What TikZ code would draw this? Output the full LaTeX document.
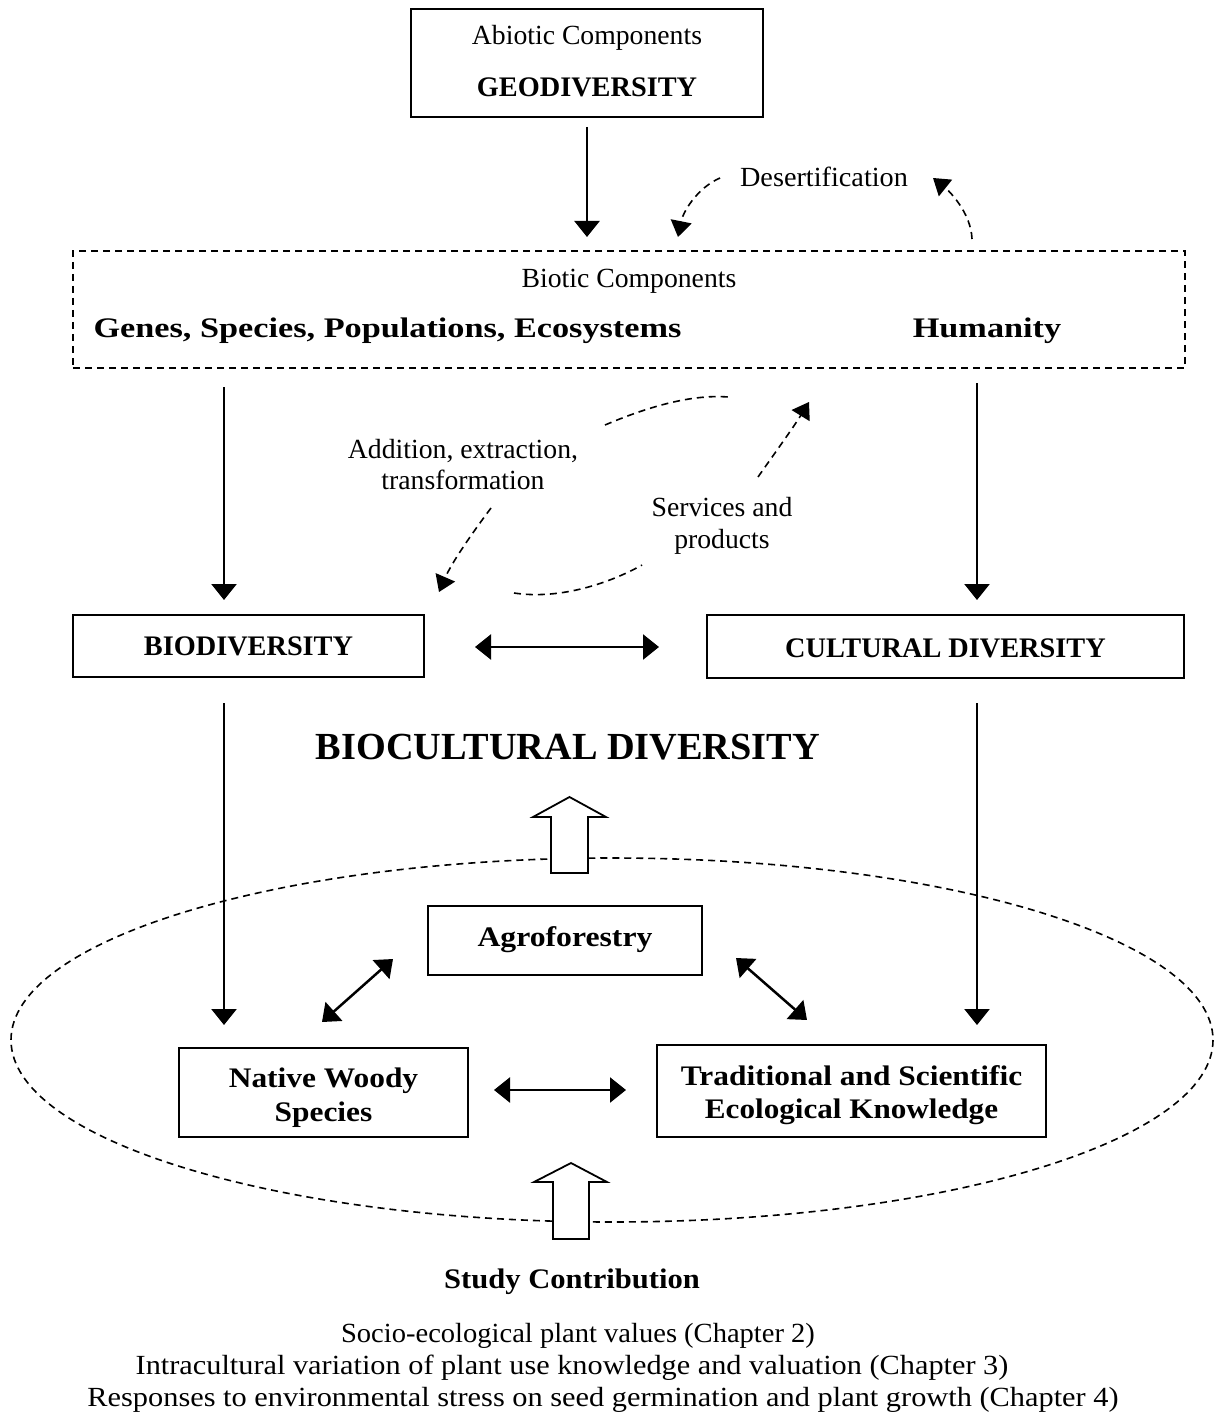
\documentclass[tikz,border=0pt]{standalone}
\usepackage{fontspec}
\setmainfont{Liberation Serif}
\usetikzlibrary{arrows.meta}
\newcommand{\sx}[2]{\scalebox{#1}[1]{#2}}
\begin{document}
\begin{tikzpicture}[x=1pt,y=-1pt,
  box/.style={draw, line width=2.2pt, inner sep=0pt},
  txt/.style={anchor=base, inner sep=0pt, font=\fontsize{27.7}{30}\selectfont},
  btxt/.style={anchor=base, inner sep=0pt, font=\fontsize{28.3}{30}\selectfont\bfseries},
  arr/.style={line width=2.5pt, -{Triangle[length=16pt,width=25pt]}},
  darr/.style={line width=2.5pt, {Triangle[length=16pt,width=25pt]}-{Triangle[length=16pt,width=25pt]}},
  dline/.style={line width=1.6pt, dash pattern=on 7pt off 5pt},
  darrow/.style={dline, -{Triangle[length=16pt,width=21pt]}},
  block/.style={draw, fill=white, line width=1.8pt, line join=miter}
]
\useasboundingbox (0,0) rectangle (1214,1420);

% top box
\node[box, minimum width=352pt, minimum height=108pt] (geo) at (587,63) {};
\node[txt] (abiotic) at (587,45) {Abiotic Components};
\node[btxt] (geot) at (587,97) {GEODIVERSITY};

% desertification
\node[txt] (desert) at (824,187) {\sx{1.02}{Desertification}};
\coordinate (d1s) at (720,178); \coordinate (d1e) at (678,237);
\coordinate (d2s) at (972,239); \coordinate (d2e) at (933,178);
\draw[darrow] (d1s) .. controls (697,188) and (683,212) .. (d1e);
\draw[darrow] (d2s) .. controls (971,212) and (948,190) .. (d2e);

\coordinate (g1) at (587,127); \coordinate (g2) at (587,237);
\draw[arr] (g1) -- (g2);

% biotic dashed box
\node[draw, dline, minimum width=1112pt, minimum height=117pt, inner sep=0pt] (biotic) at (629,309.5) {};
\node[txt] (biotict) at (629,288) {Biotic Components};
\node[btxt] (genes) at (387.5,337) {\sx{1.21}{Genes, Species, Populations, Ecosystems}};
\node[btxt] (humanity) at (987,337) {\sx{1.21}{Humanity}};

\coordinate (a1) at (224,387); \coordinate (a2) at (224,600);
\coordinate (b1) at (977,383); \coordinate (b2) at (977,600);
\draw[arr] (a1) -- (a2);
\draw[arr] (b1) -- (b2);

% middle curves
\node[txt] (addition) at (463,458) {Addition, extraction,};
\node[txt] (transf) at (463,489) {transformation};
\node[txt] (services) at (722,516) {Services and};
\node[txt] (products) at (722,548) {products};
\coordinate (u1) at (605,425); \coordinate (u2) at (728,397);
\draw[dline] (u1) .. controls (645,408) and (690,394) .. (u2);
\coordinate (s1) at (758,477); \coordinate (s2) at (809,402);
\draw[darrow] (s1) .. controls (772,457) and (793,428) .. (s2);
\coordinate (l1) at (514,593); \coordinate (l2) at (642,565);
\draw[dline] (l1) .. controls (560,600) and (610,583) .. (l2);
\coordinate (t1) at (491,508); \coordinate (t2) at (439,592);
\draw[darrow] (t1) .. controls (473,532) and (452,562) .. (t2);

% bio / cultural
\node[box, minimum width=351pt, minimum height=62pt] (bio) at (248.5,646) {};
\node[btxt] (biot) at (248.5,655) {BIODIVERSITY};
\node[box, minimum width=477pt, minimum height=63pt] (cult) at (945.5,646.5) {};
\node[btxt] (cultt) at (945.5,657) {CULTURAL DIVERSITY};
\coordinate (h1) at (475,647); \coordinate (h2) at (659,647);
\draw[darr] (h1) -- (h2);

\node[anchor=base, inner sep=0pt, font=\fontsize{38.3}{40}\selectfont\bfseries] (biocult) at (568,759) {BIOCULTURAL DIVERSITY};

\coordinate (c1) at (224,703); \coordinate (c2) at (224,1025);
\coordinate (e1) at (977,703); \coordinate (e2) at (977,1025);

% ellipse
\draw[dline] (612,1040) ellipse [x radius=601, y radius=182];

\draw[arr] (c1) -- (c2);
\draw[arr] (e1) -- (e2);

% block arrows
\draw[block] (569.5,797) -- (606,817) -- (588,817) -- (588,873) -- (551,873) -- (551,817) -- (533,817) -- cycle;
\draw[block] (571,1163) -- (607,1182) -- (589,1182) -- (589,1239) -- (553,1239) -- (553,1182) -- (534,1182) -- cycle;

% inner boxes
\node[box, minimum width=274pt, minimum height=69pt] (agro) at (565,940.5) {};
\node[btxt] (agrot) at (565,946) {\sx{1.12}{Agroforestry}};
\node[box, minimum width=289pt, minimum height=89pt] (native) at (323.5,1092.5) {};
\node[btxt] (nat1) at (323.5,1087) {\sx{1.11}{Native Woody}};
\node[btxt] (nat2) at (323.5,1121) {\sx{1.11}{Species}};
\node[box, minimum width=389pt, minimum height=92pt] (trad) at (851.5,1091) {};
\node[btxt] (tr1) at (851.5,1085) {\sx{1.11}{Traditional and Scientific}};
\node[btxt] (tr2) at (851.5,1118) {\sx{1.10}{Ecological Knowledge}};

\coordinate (p1) at (322,1022); \coordinate (p2) at (393,959);
\coordinate (q1) at (736,958); \coordinate (q2) at (807,1020);
\coordinate (r1) at (494,1090); \coordinate (r2) at (626,1090);
\draw[darr] (p1) -- (p2);
\draw[darr] (q1) -- (q2);
\draw[darr] (r1) -- (r2);

% study contribution
\node[btxt] (study) at (572,1288) {\sx{1.08}{Study Contribution}};
\node[txt] (ch2) at (578,1342) {\sx{1.03}{Socio-ecological plant values (Chapter 2)}};
\node[txt] (ch3) at (572,1374) {\sx{1.094}{Intracultural variation of plant use knowledge and valuation (Chapter 3)}};
\node[txt] (ch4) at (603,1406) {\sx{1.096}{Responses to environmental stress on seed germination and plant growth (Chapter 4)}};
\end{tikzpicture}
\end{document}
